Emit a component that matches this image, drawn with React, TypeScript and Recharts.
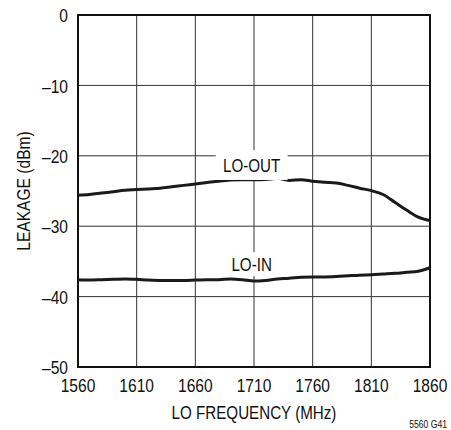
import React from 'react';
import { LineChart, Line, XAxis, YAxis, CartesianGrid, ReferenceArea, ReferenceDot } from 'recharts';

// no narrow font installed: Liberation Sans squeezed horizontally stands in for a condensed face
const FONT = "'Liberation Sans', Arial, sans-serif";
const SQUEEZE = 0.82;

// LO frequency (MHz), 10 MHz steps
const freq = [
  1560, 1570, 1580, 1590, 1600, 1610, 1620, 1630, 1640, 1650, 1660,
  1670, 1680, 1690, 1700, 1710, 1720, 1730, 1740, 1750, 1760,
  1770, 1780, 1790, 1800, 1810, 1820, 1830, 1840, 1850, 1860,
];

const loOut = [
  -25.6, -25.5, -25.3, -25.1, -24.9, -24.8, -24.7, -24.6, -24.4, -24.2, -24.0,
  -23.8, -23.6, -23.45, -23.4, -23.4, -23.35, -23.2, -23.5, -23.4, -23.6,
  -23.75, -23.85, -24.2, -24.6, -24.95, -25.5, -26.6, -27.7, -28.7, -29.2,
];

const loIn = [
  -37.6, -37.65, -37.6, -37.55, -37.5, -37.55, -37.65, -37.7, -37.7, -37.7, -37.65,
  -37.6, -37.6, -37.5, -37.6, -37.8, -37.7, -37.5, -37.4, -37.25, -37.2,
  -37.2, -37.15, -37.05, -36.95, -36.9, -36.8, -36.7, -36.55, -36.4, -35.9,
];

const xTicks = [1560, 1610, 1660, 1710, 1760, 1810, 1860];
const yTicks = [0, -10, -20, -30, -40, -50];

const data = freq.map((f, i) => ({ f, out: loOut[i], in: loIn[i] }));

const fmtY = (v: number) => (v < 0 ? `\u2013${-v}` : `${v}`);

type NTProps = {
  x: number;
  y: number;
  size: number;
  anchor?: 'start' | 'middle' | 'end';
  rotate?: number;
  children: React.ReactNode;
};

const NarrowText = ({ x, y, size, anchor = 'middle', rotate, children }: NTProps) => (
  <g transform={`translate(${x},${y})${rotate ? ` rotate(${rotate})` : ''}`}>
    <text transform={`scale(${SQUEEZE},1)`} textAnchor={anchor} fontSize={size} fontFamily={FONT} fill="#111">
      {children}
    </text>
  </g>
);

const XTick = (props: any) => (
  <NarrowText x={props.x} y={props.y + 13.6} size={19}>{props.payload.value}</NarrowText>
);

const YTick = (props: any) => (
  <NarrowText x={props.x} y={props.y + 7.2} size={19} anchor="end">{fmtY(props.payload.value)}</NarrowText>
);

// label with a white box behind it, centred on the reference point
const boxLabel = (text: string, w: number, h: number) => (props: any) => {
  const { viewBox } = props;
  const cx = viewBox.x + viewBox.width / 2;
  const cy = viewBox.y + viewBox.height / 2;
  return (
    <g>
      <rect x={cx - w / 2} y={cy - h / 2} width={w} height={h} fill="#fff" />
      <NarrowText x={cx} y={cy + 6.7} size={18.5}>{text}</NarrowText>
    </g>
  );
};

const xLabel = (props: any) => {
  const { viewBox } = props;
  return <NarrowText x={viewBox.x + viewBox.width / 2} y={419} size={18.5}>LO FREQUENCY (MHz)</NarrowText>;
};

const yLabel = (props: any) => {
  const { viewBox } = props;
  return (
    <NarrowText x={30} y={viewBox.y + viewBox.height / 2} size={19} rotate={-90}>
      LEAKAGE (dBm)
    </NarrowText>
  );
};

export default function App() {
  return (
    <div style={{ position: 'absolute', left: 0, top: 0, width: 451, height: 430, background: '#fff' }}>
      <LineChart width={451} height={430} data={data} margin={{ top: 15, right: 21, bottom: 0, left: 0 }}>
        <CartesianGrid stroke="#333" strokeWidth={1} />
        <XAxis
          dataKey="f"
          type="number"
          domain={[1560, 1860]}
          ticks={xTicks}
          height={63}
          axisLine={false}
          tickLine={false}
          tickMargin={5}
          tick={XTick}
          label={xLabel}
        />
        <YAxis
          type="number"
          domain={[-50, 0]}
          ticks={yTicks}
          width={78}
          axisLine={false}
          tickLine={false}
          tickMargin={4}
          tick={YTick}
          label={yLabel}
        />
        <ReferenceArea x1={1560} x2={1860} y1={-50} y2={0} fill="none" stroke="#111" strokeWidth={2} ifOverflow="visible" />
        <ReferenceDot x={1708} y={-21.3} r={1} fill="none" stroke="none" label={boxLabel('LO-OUT', 72, 30)} />
        <ReferenceDot x={1708} y={-35.4} r={1} fill="none" stroke="none" label={boxLabel('LO-IN', 50, 24)} />
        <Line type="monotone" dataKey="out" stroke="#1a1a1a" strokeWidth={3} dot={false} isAnimationActive={false} />
        <Line type="monotone" dataKey="in" stroke="#1a1a1a" strokeWidth={3} dot={false} isAnimationActive={false} />
        <NarrowText x={447} y={428} size={10.5} anchor="end">5560 G41</NarrowText>
      </LineChart>
    </div>
  );
}
